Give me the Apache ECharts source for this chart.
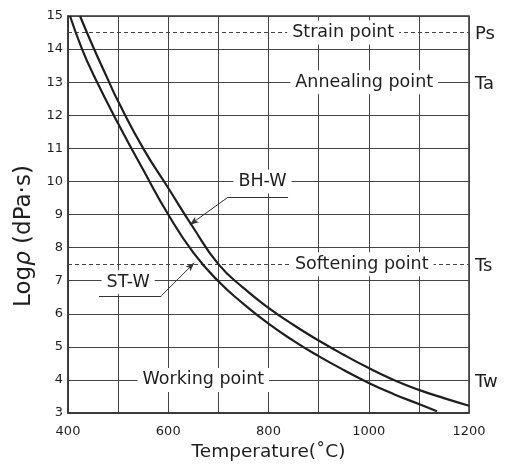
<!DOCTYPE html>
<html>
<head>
<meta charset="utf-8">
<script src="https://cdn.jsdelivr.net/npm/echarts@6/dist/echarts.min.js"></script>
<style>
  html, body { margin: 0; padding: 0; background: #fff; }
  #chart { width: 509px; height: 468px; }
</style>
</head>
<body>
<div id="chart"></div>
<script>
// viscosity curves (temperature °C, log viscosity)
const stTemp = [404, 428, 450, 500, 550, 600, 650, 700, 750, 800, 850, 900, 950, 1000, 1050, 1100, 1136];
const stVisc = [15, 14, 13.25, 11.75, 10.35, 9.0, 7.85, 6.98, 6.3, 5.7, 5.18, 4.72, 4.3, 3.91, 3.57, 3.27, 3.05];
const bhTemp = [424, 450, 480, 500, 550, 600, 650, 700, 750, 800, 850, 900, 950, 1000, 1050, 1100, 1150, 1200];
const bhVisc = [15, 14.07, 13.07, 12.42, 11.0, 9.8, 8.6, 7.5, 6.78, 6.18, 5.66, 5.19, 4.76, 4.36, 4.0, 3.70, 3.45, 3.22];

// reference levels
const dashedLevels = [14.5, 7.5];
const pointNames = ['Strain point', 'Annealing point', 'Softening point', 'Working point'];
const pointVisc = [14.5, 13, 7.5, 4];
const pointTemp = [949, 991, 986, 670];
const sideNames = ['Ps', 'Ta', 'Ts', 'Tw'];

const font = 'DejaVu Sans';
const ink = '#1e1e1e';

const zip = (xs, ys) => xs.map((x, i) => [x, ys[i]]);

const chart = echarts.init(document.getElementById('chart'));

const option = {
    animation: false,
    grid: {
        left: 68, right: 40, top: 16, bottom: 55,
        show: true, borderColor: '#333', borderWidth: 1.5
    },
    xAxis: {
        type: 'value', min: 400, max: 1200, interval: 200,
        name: 'Temperature(˚C)', nameLocation: 'middle', nameGap: 30,
        nameTextStyle: { fontFamily: font, fontSize: 18.5, color: ink },
        axisLine: { lineStyle: { color: '#333', width: 1.5 } },
        axisTick: { show: false },
        axisLabel: { fontFamily: font, fontSize: 13, color: ink, margin: 12, formatter: v => String(v) },
        splitLine: { lineStyle: { color: '#444', width: 1 } },
        minorTick: { show: false, splitNumber: 2 },
        minorSplitLine: { show: true, lineStyle: { color: '#444', width: 1 } }
    },
    yAxis: {
        type: 'value', min: 3, max: 15, interval: 1,
        name: 'Log{i|ρ} (dPa·s)', nameLocation: 'middle', nameGap: 27,
        nameTextStyle: {
            fontFamily: font, fontSize: 23, color: ink, padding: [0, 43, 0, 0],
            rich: { i: { fontFamily: font, fontSize: 23, fontStyle: 'italic', color: ink } }
        },
        axisLine: { lineStyle: { color: '#333', width: 1.5 } },
        axisTick: { show: false },
        axisLabel: { fontFamily: font, fontSize: 13, color: ink, margin: 5 },
        splitLine: { lineStyle: { color: '#444', width: 1 } }
    },
    series: [
        {
            name: 'ST-W', type: 'line', data: zip(stTemp, stVisc),
            smooth: 0.5, showSymbol: false, z: 5,
            lineStyle: { color: ink, width: 2.2 }
        },
        {
            name: 'BH-W', type: 'line', data: zip(bhTemp, bhVisc),
            smooth: 0.5, showSymbol: false, z: 5,
            lineStyle: { color: ink, width: 2.2 },
            markLine: {
                silent: true, animation: false,
                label: { show: false },
                lineStyle: { color: '#333', width: 1, type: 'solid' },
                data: [
                    ...dashedLevels.map(v => [
                        { coord: [400, v], symbol: 'none', lineStyle: { type: [4, 3], color: '#444' } },
                        { coord: [1200, v], symbol: 'none' }
                    ]),
                    // BH-W leader
                    [{ coord: [839, 9.52], symbol: 'none' }, { coord: [719, 9.52], symbol: 'none' }],
                    [{ coord: [719, 9.52], symbol: 'none' }, { coord: [643, 8.69], symbol: 'arrow', symbolSize: [5, 9] }],
                    // ST-W leader
                    [{ coord: [462, 6.54], symbol: 'none' }, { coord: [586, 6.54], symbol: 'none' }],
                    [{ coord: [586, 6.54], symbol: 'none' }, { coord: [652, 7.54], symbol: 'arrow', symbolSize: [5, 9] }]
                ]
            }
        },
        {
            type: 'scatter', symbolSize: 0, z: 10, silent: true,
            itemStyle: { opacity: 1 },
            data: [
                ...pointNames.map((n, i) => [pointTemp[i], pointVisc[i], n]),
                [788, 10, 'BH-W'],
                [520, 6.95, 'ST-W']
            ],
            label: {
                show: true, position: [0, 0], align: 'center', verticalAlign: 'middle',
                formatter: p => p.data[2],
                fontFamily: font, fontSize: 17.5, color: ink, opacity: 1,
                backgroundColor: '#fff', padding: [3, 5]
            }
        },
        {
            type: 'scatter', symbolSize: 0, z: 10, silent: true, clip: false,
            itemStyle: { opacity: 1 },
            data: sideNames.map((n, i) => [1212, pointVisc[i], n]),
            label: {
                show: true, position: [0, 0], align: 'left', verticalAlign: 'middle', offset: [0, 2],
                formatter: p => p.data[2],
                fontFamily: font, fontSize: 18, color: ink, opacity: 1
            }
        }
    ]
};

chart.setOption(option);
</script>
</body>
</html>
